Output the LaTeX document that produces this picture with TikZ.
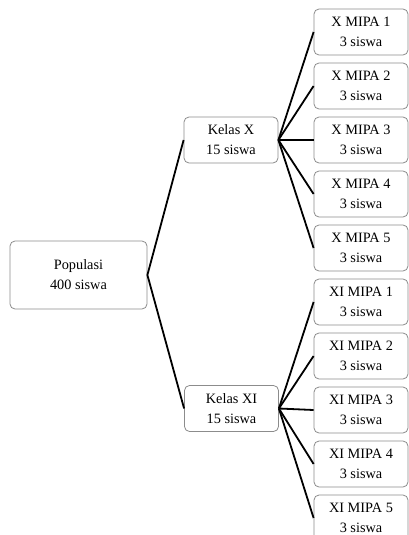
\documentclass[tikz,border=0pt]{standalone}
\usepackage{fontspec}
\setmainfont{Liberation Serif}
\begin{document}
\begin{tikzpicture}[x=1pt,y=-1pt,
  box/.style={draw=black!45, line width=0.8pt, rounded corners=5pt, fill=white,
    align=center, inner sep=0pt, font=\fontsize{14.3}{20}\selectfont},
  leaf/.style={box, minimum width=94pt, minimum height=46pt},
  conn/.style={line width=1.8pt, black}]
\useasboundingbox (0,0) rectangle (409,535);
\node[box, minimum width=137pt, minimum height=68pt] (pop) at (78.5,275) {Populasi\\400 siswa};
\node[leaf] (kx) at (231,140) {Kelas X\\15 siswa};
\node[leaf] (kxi) at (231.5,408.5) {Kelas XI\\15 siswa};
\foreach \i in {1,...,5}{
  \node[leaf] (x\i) at (361,{32+54*(\i-1)}) {X MIPA \i\\3 siswa};
  \node[leaf] (xi\i) at (361,{32+54*(\i+4)}) {XI MIPA \i\\3 siswa};
}
\draw[conn] (kx.west) -- (pop.east) -- (kxi.west);
\foreach \i in {1,...,5}{
  \draw[conn] (kx.east) -- (x\i.west);
  \draw[conn] (kxi.east) -- (xi\i.west);
}
\end{tikzpicture}
\end{document}
